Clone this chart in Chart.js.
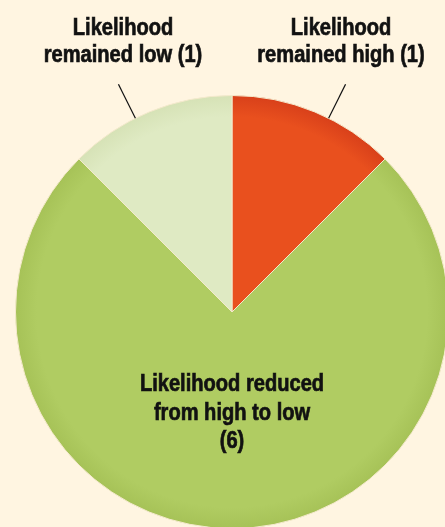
<!DOCTYPE html>
<html>
<head>
<meta charset="utf-8">
<script src="https://cdn.jsdelivr.net/npm/chart.js@4/dist/chart.umd.min.js"></script>
<style>
  html, body { margin: 0; padding: 0; background: #FFF5E1; overflow: hidden; width: 445px; height: 527px; }
  canvas { position: absolute; left: 0; top: 0; }
</style>
</head>
<body>
<canvas id="c" width="470" height="560"></canvas>
<script>
// ---- data ----
const categories = [
  ["Likelihood", "remained high (1)"],
  ["Likelihood reduced", "from high to low", "(6)"],
  ["Likelihood", "remained low (1)"]
];
const values = [1, 6, 1];
const colors = ["#E9501E", "#B0CC62", "#DFEAC3"];
const edgeColors = ["#D8401A", "#A6C257", "#D6E2B6"];

const FONT = '"Liberation Sans", Arial, sans-serif';
const SQUEEZE = 0.82;

function sliceFill(ctx) {
  const chart = ctx.chart;
  const i = ctx.dataIndex;
  const a = chart.chartArea;
  if (!a) return colors[i];
  const cx = (a.left + a.right) / 2, cy = (a.top + a.bottom) / 2;
  const r = Math.min(a.right - a.left, a.bottom - a.top) / 2;
  const g = chart.ctx.createRadialGradient(cx, cy, 0, cx, cy, r);
  g.addColorStop(0, colors[i]);
  g.addColorStop(0.9, colors[i]);
  g.addColorStop(1, edgeColors[i]);
  return g;
}

function narrowText(ctx, t, x, y) {
  ctx.save();
  ctx.translate(x, y);
  ctx.scale(SQUEEZE, 1);
  ctx.lineWidth = 0.7;
  ctx.strokeStyle = '#111';
  ctx.strokeText(t, 0, 0);
  ctx.fillText(t, 0, 0);
  ctx.restore();
}

const labelPlugin = {
  id: 'labels',
  afterDatasetsDraw(chart) {
    const ctx = chart.ctx;
    const meta = chart.getDatasetMeta(0);
    const total = values.reduce((s, v) => s + v, 0);
    ctx.save();
    ctx.font = 'bold 24.5px ' + FONT;
    ctx.fillStyle = '#111';
    ctx.textAlign = 'center';
    ctx.textBaseline = 'alphabetic';
    meta.data.forEach((arc, i) => {
      const p = arc.getProps(['x', 'y', 'startAngle', 'endAngle', 'outerRadius'], true);
      const mid = (p.startAngle + p.endAngle) / 2;
      const lines = categories[i];
      if (values[i] / total > 0.5) {
        const rr = p.outerRadius * 0.47;
        const lx = p.x + Math.cos(mid) * rr;
        const ly = p.y + Math.sin(mid) * rr;
        const lh = 28.5;
        const startY = ly - (lines.length - 1) * lh / 2 + 6;
        lines.forEach((t, k) => narrowText(ctx, t, lx, startY + k * lh));
      } else {
        const dir = Math.cos(mid) >= 0 ? 1 : -1;
        const ang = mid + dir * (4 * Math.PI / 180);
        const x1 = p.x + Math.cos(ang) * p.outerRadius;
        const y1 = p.y + Math.sin(ang) * p.outerRadius;
        const x2 = p.x + Math.cos(ang) * (p.outerRadius + 38);
        const y2 = p.y + Math.sin(ang) * (p.outerRadius + 38);
        ctx.strokeStyle = '#111';
        ctx.lineWidth = 1.2;
        ctx.beginPath();
        ctx.moveTo(x1, y1);
        ctx.lineTo(x2, y2);
        ctx.stroke();
        const lx = p.x + dir * 109;
        lines.forEach((t, k) => narrowText(ctx, t, lx, 35 + k * 27));
      }
    });
    ctx.restore();
  }
};

new Chart(document.getElementById('c'), {
  type: 'pie',
  data: {
    labels: categories.map(l => l.join(' ')),
    datasets: [{
      data: values,
      backgroundColor: sliceFill,
      borderColor: '#F4E9CC',
      borderWidth: 1
    }]
  },
  options: {
    responsive: false,
    animation: false,
    rotation: 0,
    layout: { padding: { left: 15, top: 95, right: 21, bottom: 31 } },
    plugins: {
      legend: { display: false },
      tooltip: { enabled: false }
    }
  },
  plugins: [labelPlugin]
});
</script>
</body>
</html>
